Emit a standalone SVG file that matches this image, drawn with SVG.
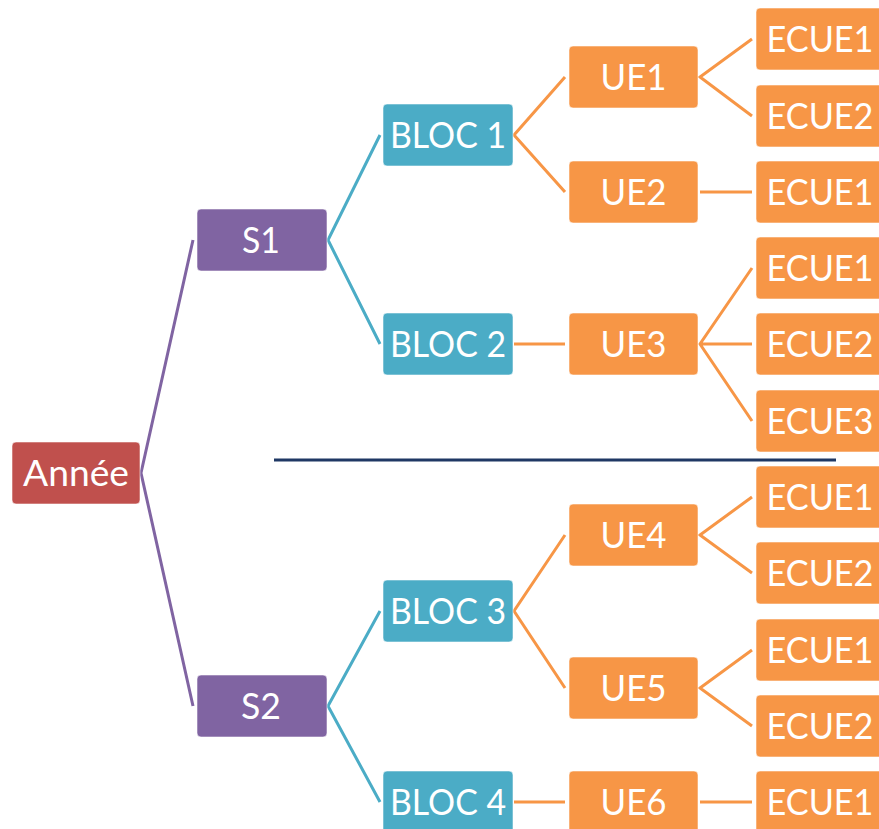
<svg xmlns="http://www.w3.org/2000/svg" width="879" height="829" viewBox="0 0 879 829">
<style>
.box{stroke:#ffffff;stroke-opacity:0.55;stroke-width:1}
.red{fill:#C0504D}
.pur{fill:#8064A2}
.teal{fill:#4BACC6}
.org{fill:#F79646}
.t{font-family:Lato,"Open Sans","Liberation Sans",sans-serif;font-size:36px;fill:#ffffff;text-anchor:middle}
.c{fill:none;stroke-width:3;stroke-linejoin:miter}
.cp{stroke:#8064A2}
.ct{stroke:#4BACC6}
.co{stroke:#F79646}
</style>
<rect width="879" height="829" fill="#ffffff"/>
<g id="connectors">
<path class="c cp" d="M193,240 L141,473 L193,706"/>
<path class="c ct" d="M380,135 L328,240 L380,344"/>
<path class="c ct" d="M380,611 L328,706 L380,802"/>
<path class="c co" d="M565,77 L514,135 L565,192"/>
<path class="c co" d="M514,344 L565,344"/>
<path class="c co" d="M565,535 L514,611 L565,688"/>
<path class="c co" d="M514,802 L565,802"/>
<path class="c co" d="M752,39 L700,77 L752,116"/>
<path class="c co" d="M700,192 L752,192"/>
<path class="c co" d="M752,268 L700,344 L752,421 M700,344 L752,344"/>
<path class="c co" d="M752,497 L700,535 L752,573"/>
<path class="c co" d="M752,650 L700,688 L752,726"/>
<path class="c co" d="M700,802 L752,802"/>
</g>
<line id="separator" x1="274" y1="460" x2="836" y2="460" stroke="#1F3864" stroke-width="3"/>
<g id="annee"><rect class="box red" x="12" y="442" width="128" height="62" rx="4"/><text class="t" x="76" y="485.5" textLength="106" lengthAdjust="spacingAndGlyphs">Année</text></g>
<g id="s1"><rect class="box pur" x="197" y="209" width="130" height="62" rx="4"/><text class="t" x="261" y="252.5" textLength="38" lengthAdjust="spacingAndGlyphs">S1</text></g>
<g id="s2"><rect class="box pur" x="197" y="675" width="130" height="62" rx="4"/><text class="t" x="261" y="718.5" textLength="40" lengthAdjust="spacingAndGlyphs">S2</text></g>
<g id="bloc1"><rect class="box teal" x="383" y="104" width="130" height="62" rx="4"/><text class="t" x="448" y="147.5" textLength="116" lengthAdjust="spacingAndGlyphs">BLOC 1</text></g>
<g id="bloc2"><rect class="box teal" x="383" y="313" width="130" height="62" rx="4"/><text class="t" x="448" y="356.5" textLength="116" lengthAdjust="spacingAndGlyphs">BLOC 2</text></g>
<g id="bloc3"><rect class="box teal" x="383" y="580" width="130" height="62" rx="4"/><text class="t" x="448" y="623.5" textLength="116" lengthAdjust="spacingAndGlyphs">BLOC 3</text></g>
<g id="bloc4"><rect class="box teal" x="383" y="771" width="130" height="62" rx="4"/><text class="t" x="448" y="814.5" textLength="116" lengthAdjust="spacingAndGlyphs">BLOC 4</text></g>
<g id="ue1"><rect class="box org" x="569" y="46" width="129" height="62" rx="4"/><text class="t" x="633.5" y="89.5" textLength="66" lengthAdjust="spacingAndGlyphs">UE1</text></g>
<g id="ue2"><rect class="box org" x="569" y="161" width="129" height="62" rx="4"/><text class="t" x="633.5" y="204.5" textLength="66" lengthAdjust="spacingAndGlyphs">UE2</text></g>
<g id="ue3"><rect class="box org" x="569" y="313" width="129" height="62" rx="4"/><text class="t" x="633.5" y="356.5" textLength="66" lengthAdjust="spacingAndGlyphs">UE3</text></g>
<g id="ue4"><rect class="box org" x="569" y="504" width="129" height="62" rx="4"/><text class="t" x="633.5" y="547.5" textLength="66" lengthAdjust="spacingAndGlyphs">UE4</text></g>
<g id="ue5"><rect class="box org" x="569" y="657" width="129" height="62" rx="4"/><text class="t" x="633.5" y="700.5" textLength="66" lengthAdjust="spacingAndGlyphs">UE5</text></g>
<g id="ue6"><rect class="box org" x="569" y="771" width="129" height="62" rx="4"/><text class="t" x="633.5" y="814.5" textLength="66" lengthAdjust="spacingAndGlyphs">UE6</text></g>
<g id="ue1-ecue1"><rect class="box org" x="756" y="8" width="128" height="62" rx="4"/><text class="t" x="820" y="51.5" textLength="107" lengthAdjust="spacingAndGlyphs">ECUE1</text></g>
<g id="ue1-ecue2"><rect class="box org" x="756" y="85" width="128" height="62" rx="4"/><text class="t" x="820" y="128.5" textLength="107" lengthAdjust="spacingAndGlyphs">ECUE2</text></g>
<g id="ue2-ecue1"><rect class="box org" x="756" y="161" width="128" height="62" rx="4"/><text class="t" x="820" y="204.5" textLength="107" lengthAdjust="spacingAndGlyphs">ECUE1</text></g>
<g id="ue3-ecue1"><rect class="box org" x="756" y="237" width="128" height="62" rx="4"/><text class="t" x="820" y="280.5" textLength="107" lengthAdjust="spacingAndGlyphs">ECUE1</text></g>
<g id="ue3-ecue2"><rect class="box org" x="756" y="313" width="128" height="62" rx="4"/><text class="t" x="820" y="356.5" textLength="107" lengthAdjust="spacingAndGlyphs">ECUE2</text></g>
<g id="ue3-ecue3"><rect class="box org" x="756" y="390" width="128" height="62" rx="4"/><text class="t" x="820" y="433.5" textLength="107" lengthAdjust="spacingAndGlyphs">ECUE3</text></g>
<g id="ue4-ecue1"><rect class="box org" x="756" y="466" width="128" height="62" rx="4"/><text class="t" x="820" y="509.5" textLength="107" lengthAdjust="spacingAndGlyphs">ECUE1</text></g>
<g id="ue4-ecue2"><rect class="box org" x="756" y="542" width="128" height="62" rx="4"/><text class="t" x="820" y="585.5" textLength="107" lengthAdjust="spacingAndGlyphs">ECUE2</text></g>
<g id="ue5-ecue1"><rect class="box org" x="756" y="619" width="128" height="62" rx="4"/><text class="t" x="820" y="662.5" textLength="107" lengthAdjust="spacingAndGlyphs">ECUE1</text></g>
<g id="ue5-ecue2"><rect class="box org" x="756" y="695" width="128" height="62" rx="4"/><text class="t" x="820" y="738.5" textLength="107" lengthAdjust="spacingAndGlyphs">ECUE2</text></g>
<g id="ue6-ecue1"><rect class="box org" x="756" y="771" width="128" height="62" rx="4"/><text class="t" x="820" y="814.5" textLength="107" lengthAdjust="spacingAndGlyphs">ECUE1</text></g>
</svg>
